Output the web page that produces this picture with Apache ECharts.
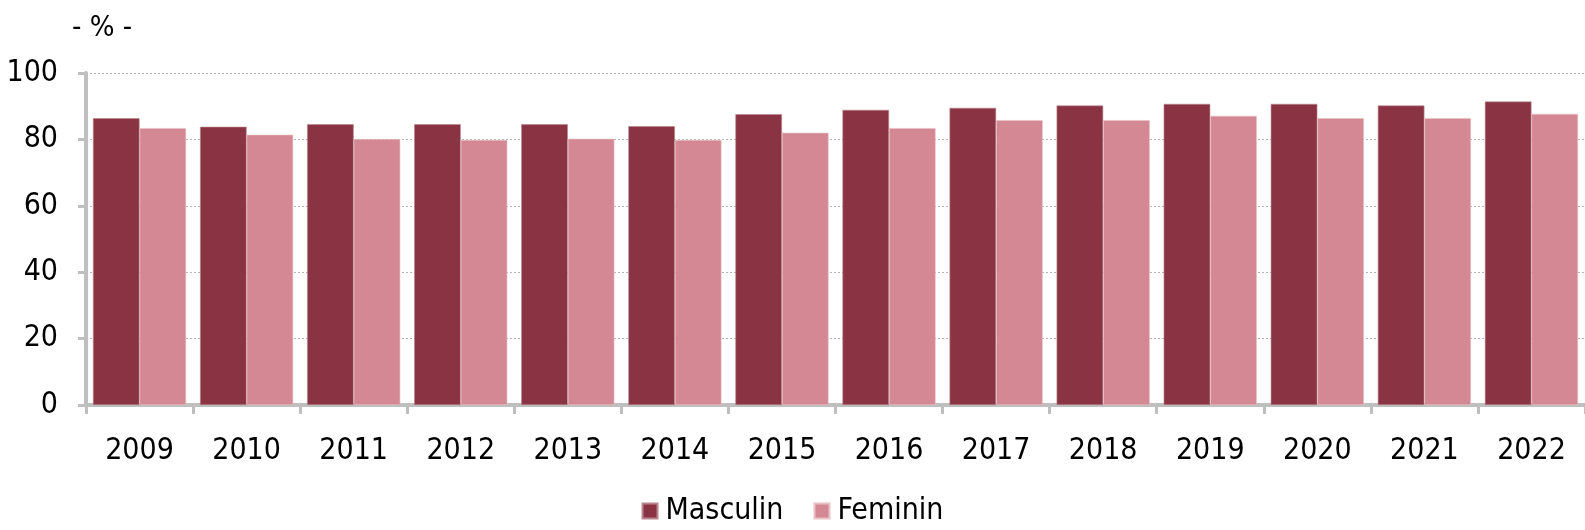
<!DOCTYPE html>
<html>
<head>
<meta charset="utf-8">
<script src="https://cdn.jsdelivr.net/npm/echarts@6/dist/echarts.min.js"></script>
<style>
  html, body { margin: 0; padding: 0; background: #fff; }
  #chart { width: 1585px; height: 530px; }
</style>
</head>
<body>
<div id="chart"></div>
<script>
var years = ['2009', '2010', '2011', '2012', '2013', '2014', '2015', '2016', '2017', '2018', '2019', '2020', '2021', '2022'];
var masculin = [86.4, 83.8, 84.6, 84.6, 84.6, 84.0, 87.6, 88.9, 89.5, 90.2, 90.7, 90.7, 90.2, 91.4];
var feminin = [83.4, 81.4, 80.1, 79.8, 80.2, 79.8, 82.0, 83.4, 85.8, 85.8, 87.1, 86.4, 86.4, 87.7];
var yTicks = [0, 20, 40, 60, 80, 100];

var font = "'DejaVu Sans Condensed', 'DejaVu Sans', sans-serif";
var axisGrey = '#bfbfbf';

var chart = echarts.init(document.getElementById('chart'), null, { renderer: 'canvas' });
chart.setOption({
  animation: false,
  textStyle: { fontFamily: font },
  graphic: [{
    type: 'text',
    left: 72,
    top: 14,
    style: { text: '- % -', fontFamily: font, fontSize: 29, fill: '#000' }
  }],
  legend: {
    data: ['Masculin', 'Feminin'],
    bottom: -1,
    left: 'center',
    icon: 'rect',
    itemWidth: 15,
    itemHeight: 15,
    itemGap: 30,
    textStyle: { fontFamily: font, fontSize: 30, color: '#000', padding: [0, 0, 0, 3] }
  },
  grid: { left: 86, right: -10, top: 73, bottom: 125, containLabel: false },
  xAxis: {
    type: 'category',
    data: years,
    axisLine: { lineStyle: { color: axisGrey, width: 4 } },
    axisTick: { show: true, length: 9, lineStyle: { color: axisGrey, width: 3 } },
    axisLabel: { color: '#000', fontSize: 30, margin: 31 }
  },
  yAxis: {
    type: 'value',
    min: yTicks[0],
    max: yTicks[yTicks.length - 1],
    interval: 20,
    axisLine: { show: true, lineStyle: { color: axisGrey, width: 4 } },
    axisTick: { show: true, length: 8, lineStyle: { color: axisGrey, width: 3 } },
    axisLabel: { color: '#000', fontSize: 30, margin: 28 },
    splitLine: { show: true, lineStyle: { color: '#b4b4b4', type: [2, 2], width: 1 } }
  },
  series: [{
    name: 'Masculin',
    type: 'bar',
    data: masculin,
    barGap: '0%',
    barCategoryGap: '13%',
    itemStyle: { color: '#8a3443', borderColor: '#b98791', borderWidth: 0.6 }
  }, {
    name: 'Feminin',
    type: 'bar',
    data: feminin,
    itemStyle: { color: '#d38893', borderColor: '#e9c2c8', borderWidth: 0.6 }
  }]
});
</script>
</body>
</html>
